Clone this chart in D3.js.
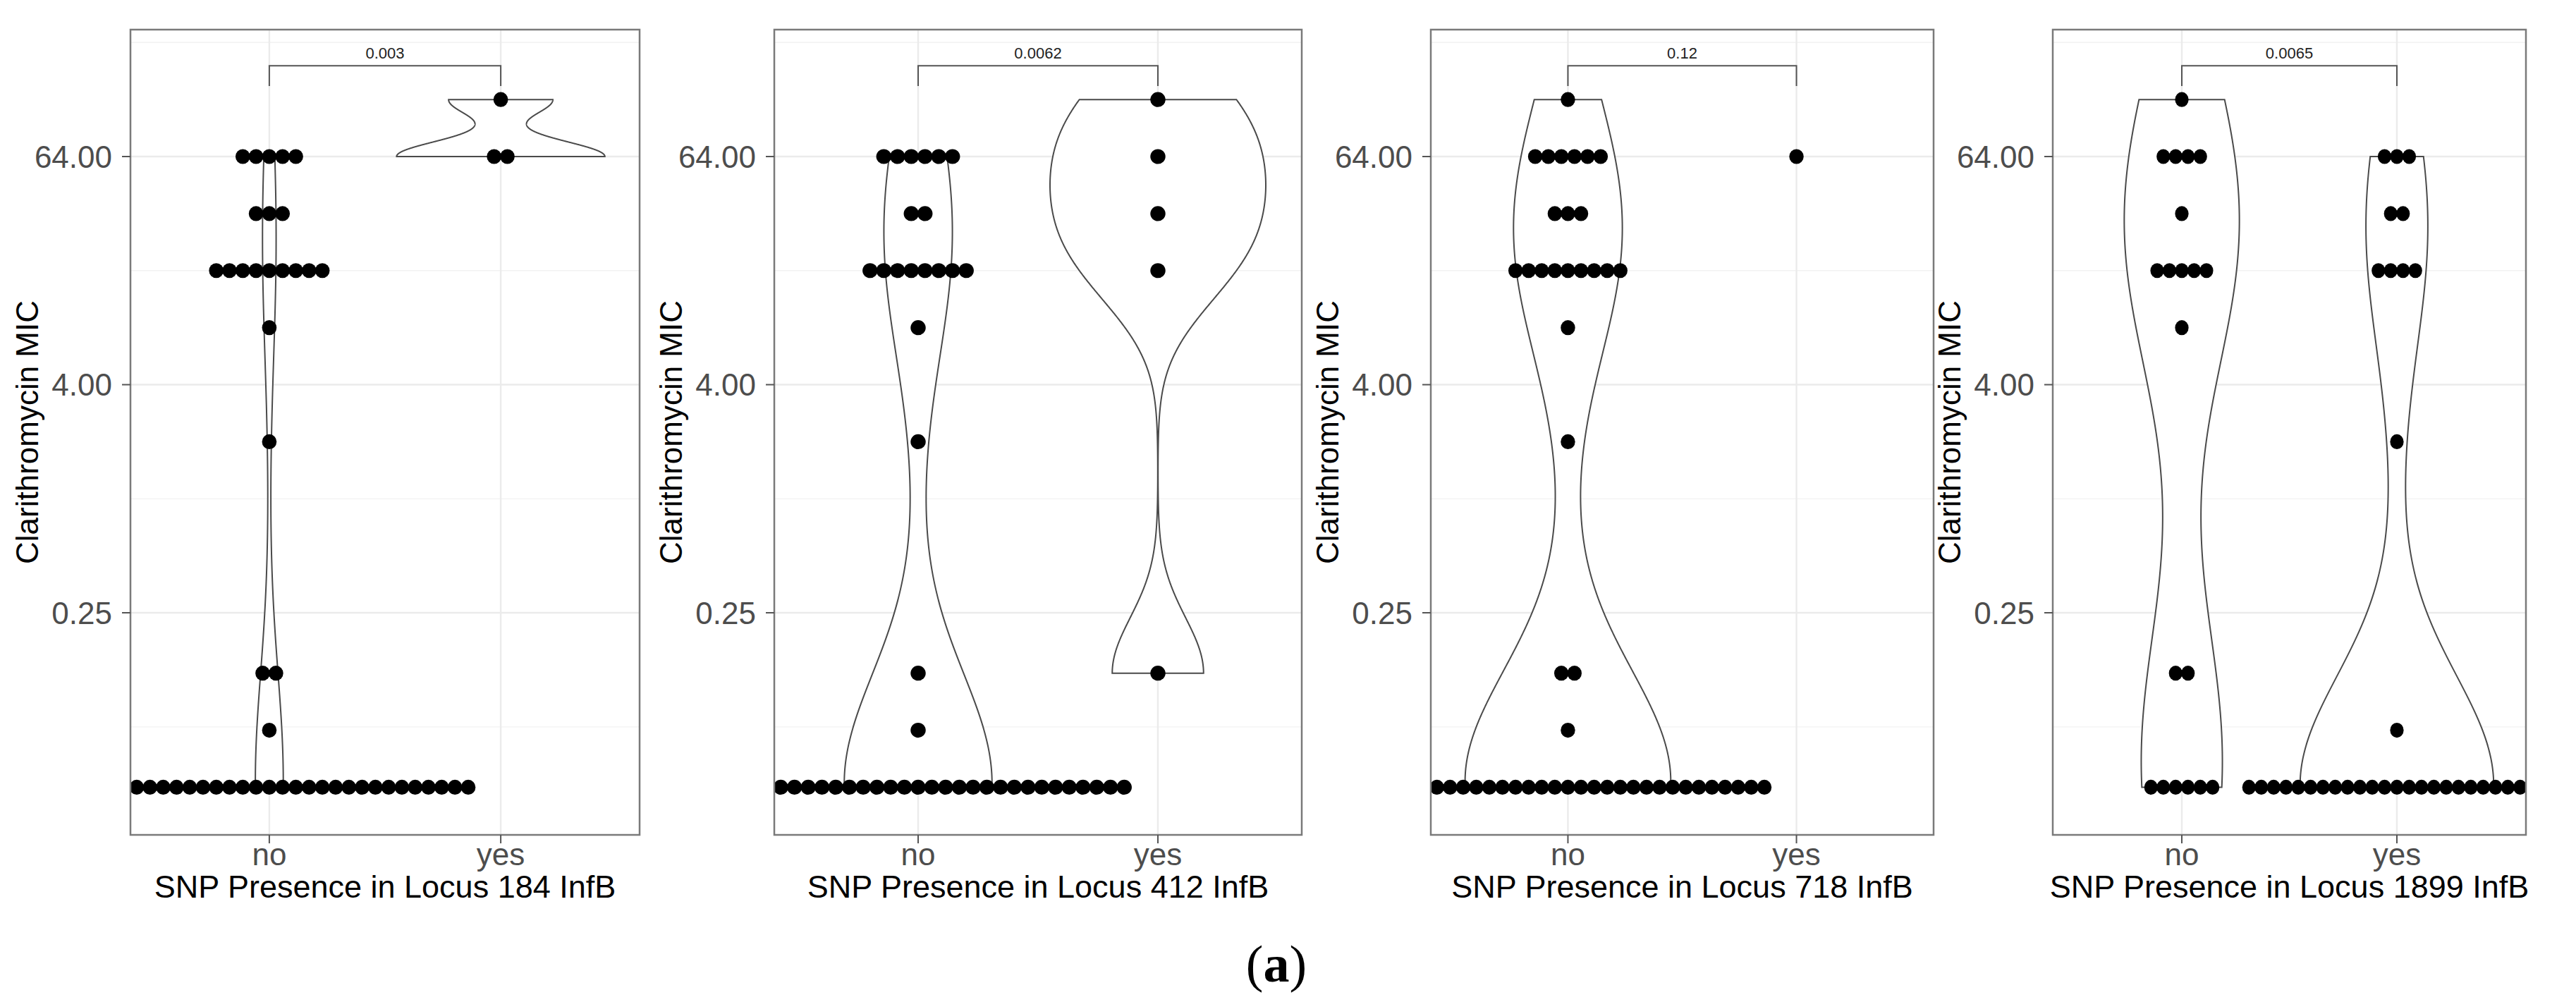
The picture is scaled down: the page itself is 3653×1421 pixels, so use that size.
<!DOCTYPE html>
<html><head><meta charset="utf-8">
<script src="https://cdn.jsdelivr.net/npm/d3@7"></script>
<style>body{margin:0;background:#fff;} svg{display:block;}</style>
</head><body>
<script>
// ---------------- data ----------------
const loci = ["184", "412", "718", "1899"];
const pValues = ["0.003", "0.0062", "0.12", "0.0065"];
const groups = ["no", "yes"];
const micLevels = [0.03, 0.06, 0.12, 2, 8, 16, 32, 64, 128];
// number of isolates at each MIC level (same order as micLevels)
const counts184No   = [31, 1, 2, 1, 1, 9, 3, 5, 0];
const counts184Yes  = [0, 0, 0, 0, 0, 0, 0, 2, 1];
const counts412No   = [31, 1, 1, 1, 1, 8, 2, 6, 0];
const counts412Yes  = [0, 0, 1, 0, 0, 1, 1, 1, 1];
const counts718No   = [31, 1, 2, 1, 1, 9, 3, 6, 1];
const counts718Yes  = [0, 0, 0, 0, 0, 0, 0, 1, 0];
const counts1899No  = [6, 0, 2, 0, 1, 5, 1, 4, 1];
const counts1899Yes = [25, 1, 0, 1, 0, 4, 2, 3, 0];
const yTicks = [0.25, 4, 64];
const yTickLabels = ["0.25", "4.00", "64.00"];
const yMinorTicks = [0.0625, 1, 16, 256];
const bracketLevel = 193, bracketTipLevel = 150.7;

const panelCounts = [
  [counts184No, counts184Yes],
  [counts412No, counts412Yes],
  [counts718No, counts718Yes],
  [counts1899No, counts1899Yes]
];

// ---------------- layout ----------------
const W = 3653, H = 1421;
const panelX = [[185, 907], [1098, 1846], [2029, 2742], [2911, 3582]];
const panelTop = 42, panelBottom = 1184;
const yLimits = [0.01681, 299.4];

const svg = d3.select("body").append("svg")
  .attr("width", W).attr("height", H)
  .attr("viewBox", `0 0 ${W} ${H}`);
svg.append("rect").attr("width", W).attr("height", H).attr("fill", "#fff");

const FONT = "'Liberation Sans', Arial, Helvetica, sans-serif";

function bwNrd0(x) {
  const n = x.length;
  const s = x.slice().sort(d3.ascending);
  const hi = d3.deviation(x);
  let lo = Math.min(hi, (d3.quantileSorted(s, 0.75) - d3.quantileSorted(s, 0.25)) / 1.34);
  if (!(lo > 0)) lo = hi || Math.abs(s[0]) || 1;
  return 0.9 * lo * Math.pow(n, -0.2);
}
function kde(x, bw, grid) {
  const n = x.length, c = 1 / (Math.sqrt(2 * Math.PI) * bw * n);
  return grid.map(g => c * d3.sum(x, xi => Math.exp(-0.5 * ((g - xi) / bw) ** 2)));
}

const y = d3.scaleLog().base(2).domain(yLimits).range([panelBottom, panelTop]);

loci.forEach((locus, pi) => {
  const [left, right] = panelX[pi];
  const x = d3.scalePoint().domain(groups).range([left, right]).padding(0.6);
  const step = x.step();
  const g = svg.append("g");
  const clipId = "clip" + pi;
  g.append("clipPath").attr("id", clipId).append("rect")
    .attr("x", left).attr("y", panelTop).attr("width", right - left).attr("height", panelBottom - panelTop);

  // grid
  const grid = g.append("g");
  grid.selectAll(".minor").data(yMinorTicks).join("line")
    .attr("x1", left).attr("x2", right).attr("y1", d => y(d)).attr("y2", d => y(d))
    .attr("stroke", "#F2F2F2").attr("stroke-width", 1.3);
  grid.selectAll(".major").data(yTicks).join("line")
    .attr("x1", left).attr("x2", right).attr("y1", d => y(d)).attr("y2", d => y(d))
    .attr("stroke", "#EBEBEB").attr("stroke-width", 2.4);
  grid.selectAll(".vmajor").data(groups).join("line")
    .attr("x1", d => x(d)).attr("x2", d => x(d)).attr("y1", panelTop).attr("y2", panelBottom)
    .attr("stroke", "#EBEBEB").attr("stroke-width", 2.4);

  const plot = g.append("g").attr("clip-path", `url(#${clipId})`);

  // build group values
  const groupVals = groups.map((grp, gi) => {
    const vals = [];
    panelCounts[pi][gi].forEach((c, li) => { for (let k = 0; k < c; k++) vals.push(micLevels[li]); });
    return vals;
  });

  // violins (log2 scale density, trim, scale = "area")
  const dens = groupVals.map(vals => {
    if (vals.length < 2) return null;
    const lv = vals.map(v => Math.log2(v));
    const bw = bwNrd0(lv);
    const lo = d3.min(lv), hi = d3.max(lv);
    const gridPts = d3.range(512).map(i => lo + (hi - lo) * i / 511);
    return { gridPts, d: kde(lv, bw, gridPts) };
  });
  const maxD = d3.max(dens.filter(Boolean), o => d3.max(o.d));
  dens.forEach((o, gi) => {
    if (!o) return;
    const cx = x(groups[gi]);
    const pts = [];
    o.gridPts.forEach((lv, i) => pts.push([cx - o.d[i] / maxD * 0.45 * step, y(Math.pow(2, lv))]));
    for (let i = o.gridPts.length - 1; i >= 0; i--)
      pts.push([cx + o.d[i] / maxD * 0.45 * step, y(Math.pow(2, o.gridPts[i]))]);
    plot.append("path").attr("d", d3.line()(pts) + "Z")
      .attr("fill", "#fff").attr("stroke", "#4a4a4a").attr("stroke-width", 2);
  });

  // dots (centered stacks)
  const spacing = 0.0573 * step;
  groups.forEach((grp, gi) => {
    const cx = x(grp);
    panelCounts[pi][gi].forEach((c, li) => {
      const offs = d3.range(c).map(k => (k - (c - 1) / 2) * spacing);
      plot.selectAll(null).data(offs).join("ellipse")
        .attr("cx", d => cx + d).attr("cy", y(micLevels[li]))
        .attr("rx", spacing * 0.55).attr("ry", 10.6).attr("fill", "#000");
    });
  });

  // border
  g.append("rect").attr("x", left).attr("y", panelTop).attr("width", right - left).attr("height", panelBottom - panelTop)
    .attr("fill", "none").attr("stroke", "#7a7a7a").attr("stroke-width", 2.5);

  // y axis
  g.selectAll(".yt").data(yTicks).join("line")
    .attr("x1", left - 12).attr("x2", left).attr("y1", d => y(d)).attr("y2", d => y(d))
    .attr("stroke", "#555").attr("stroke-width", 2);
  g.selectAll(".ytl").data(yTicks).join("text")
    .attr("x", left - 26).attr("y", d => y(d)).attr("dy", "0.36em")
    .attr("text-anchor", "end").attr("font-family", FONT).attr("font-size", 44).attr("fill", "#4D4D4D")
    .text((d, i) => yTickLabels[i]);
  g.append("text")
    .attr("transform", `translate(${left - 131},${(panelTop + panelBottom) / 2}) rotate(-90)`)
    .attr("text-anchor", "middle").attr("font-family", FONT).attr("font-size", 44).attr("fill", "#000")
    .text("Clarithromycin MIC");

  // x axis
  g.selectAll(".xt").data(groups).join("line")
    .attr("x1", d => x(d)).attr("x2", d => x(d)).attr("y1", panelBottom).attr("y2", panelBottom + 12)
    .attr("stroke", "#555").attr("stroke-width", 2);
  g.selectAll(".xtl").data(groups).join("text")
    .attr("x", d => x(d)).attr("y", 1227).attr("text-anchor", "middle")
    .attr("font-family", FONT).attr("font-size", 44).attr("fill", "#4D4D4D").text(d => d);
  g.append("text").attr("x", (left + right) / 2).attr("y", 1273).attr("text-anchor", "middle")
    .attr("font-family", FONT).attr("font-size", 45).attr("fill", "#000")
    .text(`SNP Presence in Locus ${locus} InfB`);

  // comparison bracket
  const bx0 = x("no"), bx1 = x("yes");
  g.append("path")
    .attr("d", `M${bx0},${y(bracketTipLevel)}V${y(bracketLevel)}H${bx1}V${y(bracketTipLevel)}`)
    .attr("fill", "none").attr("stroke", "#555").attr("stroke-width", 2);
  g.append("text").attr("x", (bx0 + bx1) / 2).attr("y", y(bracketLevel) - 10).attr("text-anchor", "middle")
    .attr("font-family", FONT).attr("font-size", 22).attr("fill", "#222").text(pValues[pi]);
});

svg.append("text").attr("x", 1810).attr("y", 1392).attr("text-anchor", "middle")
  .attr("font-family", "'Liberation Serif', 'Times New Roman', serif").attr("font-size", 74)
  .attr("fill", "#000").html("(<tspan font-weight='bold'>a</tspan>)");
</script>
</body></html>
